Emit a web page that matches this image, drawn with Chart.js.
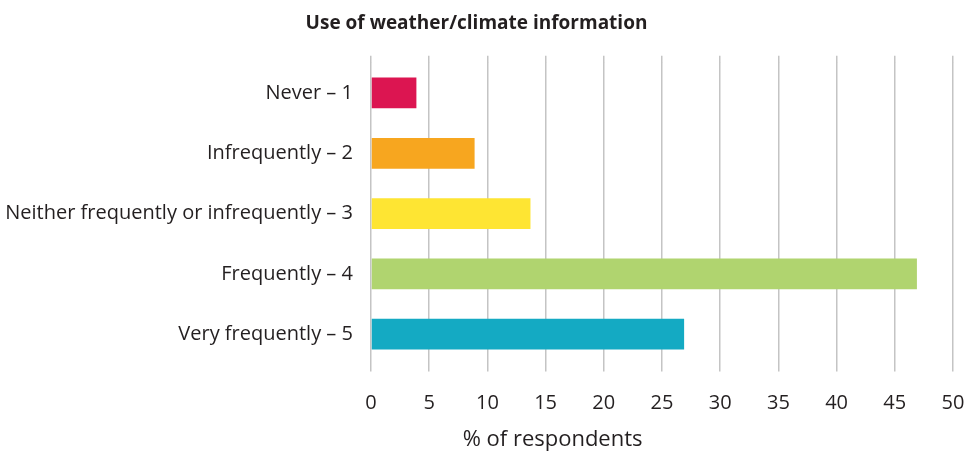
<!DOCTYPE html>
<html lang="en">
<head>
    <meta charset="UTF-8">
    <title>Use of weather/climate information</title>
    <style>
        body {
            margin: 0;
            background: #ffffff;
        }
        #wrap {
            width: 969px;
            height: 457px;
        }
    </style>
    <script src="https://cdn.jsdelivr.net/npm/chart.js"></script>
</head>
<body>
<div id="wrap"><canvas id="useChart" width="969" height="457"></canvas></div>

<script>
    const categories = ['Never – 1', 'Infrequently – 2', 'Neither frequently or infrequently – 3', 'Frequently – 4', 'Very frequently – 5'];
    const percentValues = [3.9, 8.9, 13.7, 46.9, 26.9];
    const barColors = ['#dc1551', '#f7a61f', '#fee533', '#b0d46f', '#14aac3'];
    const xTicks = [0, 5, 10, 15, 20, 25, 30, 35, 40, 45, 50];
    const xTitle = '% of respondents';

    const fontFamily = '"Open Sans", "Noto Sans", Arial, sans-serif';
    const textColor = '#231f20';
    const gridColor = '#c4c4c4';

    // x axis title sits left of the plot centre in the original, so draw it ourselves
    const xTitlePlugin = {
        id: 'xTitlePlugin',
        afterDraw(chart) {
            const area = chart.chartArea;
            const c = chart.ctx;
            c.save();
            c.fillStyle = textColor;
            c.font = '22px ' + fontFamily;
            c.textAlign = 'center';
            c.textBaseline = 'middle';
            c.fillText(xTitle, area.left + (area.right - area.left) * 0.312, 440);
            c.restore();
        }
    };

    const ctx = document.getElementById('useChart').getContext('2d');
    const useChart = new Chart(ctx, {
        type: 'bar',
        data: {
            labels: categories,
            datasets: [{
                label: xTitle,
                data: percentValues,
                backgroundColor: barColors,
                borderWidth: 0,
                categoryPercentage: 1,
                barPercentage: 0.51
            }]
        },
        options: {
            indexAxis: 'y',
            responsive: false,
            animation: false,
            layout: { padding: { left: 0, right: 16, top: 0, bottom: 0 } },
            plugins: {
                legend: { display: false },
                tooltip: { enabled: false },
                title: {
                    display: true,
                    text: 'Use of weather/climate information',
                    color: textColor,
                    font: { family: fontFamily, size: 19, weight: 'bold' },
                    padding: { top: 12, bottom: 21 }
                }
            },
            scales: {
                x: {
                    min: 0,
                    max: 50,
                    afterBuildTicks: (axis) => {
                        axis.ticks = xTicks.map(v => ({ value: v }));
                    },
                    afterFit: (axis) => { axis.paddingRight = 0; },
                    grid: {
                        color: gridColor,
                        lineWidth: 1.5,
                        tickLength: 7
                    },
                    border: { display: false },
                    ticks: {
                        color: textColor,
                        font: { family: fontFamily, size: 20 },
                        padding: 20
                    },
                    title: {
                        display: true,
                        text: xTitle,
                        color: 'rgba(0,0,0,0)',
                        font: { family: fontFamily, size: 18 },
                        padding: { top: 0, bottom: 0 }
                    }
                },
                xTop: {
                    position: 'top',
                    min: 0,
                    max: 50,
                    afterBuildTicks: (axis) => {
                        axis.ticks = xTicks.map(v => ({ value: v }));
                    },
                    afterFit: (axis) => { axis.paddingRight = 0; },
                    grid: {
                        color: gridColor,
                        lineWidth: 1.5,
                        tickLength: 7,
                        drawOnChartArea: false
                    },
                    border: { display: false },
                    ticks: { display: false, padding: 0 }
                },
                y: {
                    grid: { display: false },
                    border: { display: false },
                    afterFit: (axis) => { axis.width = 371; },
                    ticks: {
                        color: textColor,
                        font: { family: fontFamily, size: 20 },
                        padding: 10
                    }
                }
            }
        },
        plugins: [xTitlePlugin]
    });
</script>
</body>
</html>
